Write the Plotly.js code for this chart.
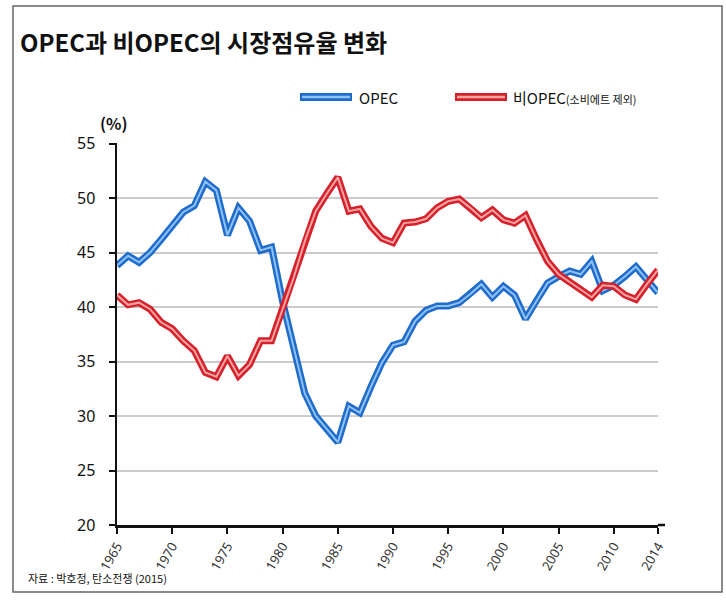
<!DOCTYPE html>
<html>
<head>
<meta charset="utf-8">
<script src="https://cdn.plot.ly/plotly-3.0.1.min.js"></script>
<style>
  html, body { margin: 0; padding: 0; background: #ffffff; }
  #chart { width: 726px; height: 600px; }
</style>
</head>
<body>
<div id="chart"></div>
<script>
// ---- data ----
const years = [1965,1966,1967,1968,1969,1970,1971,1972,1973,1974,
               1975,1976,1977,1978,1979,1980,1981,1982,1983,1984,
               1985,1986,1987,1988,1989,1990,1991,1992,1993,1994,
               1995,1996,1997,1998,1999,2000,2001,2002,2003,2004,
               2005,2006,2007,2008,2009,2010,2011,2012,2013,2014];
const opecShare = [43.8,44.7,44.1,45.0,46.2,47.4,48.7,49.3,51.5,50.7,
                   46.6,49.1,47.9,45.2,45.5,40.5,36.3,32.1,30.0,28.8,
                   27.6,30.9,30.3,32.7,34.9,36.5,36.8,38.7,39.7,40.1,
                   40.1,40.4,41.2,42.1,40.9,41.9,41.1,38.9,40.6,42.2,
                   42.8,43.3,43.0,44.2,41.5,42.0,42.8,43.7,42.5,41.3];
const nonOpecShare = [41.1,40.2,40.4,39.8,38.6,38.0,36.9,36.0,34.0,33.6,
                      35.5,33.7,34.7,36.9,36.9,39.8,42.7,46.0,48.8,50.4,
                      51.9,48.8,49.0,47.4,46.3,45.9,47.7,47.8,48.1,49.1,
                      49.7,49.9,49.1,48.2,48.9,48.0,47.7,48.4,46.2,44.2,
                      43.0,42.3,41.6,40.9,42.0,41.9,41.1,40.7,42.1,43.4];
const xTickVals = [1965,1970,1975,1980,1985,1990,1995,2000,2005,2010,2014];
const xTickText = ['1965','1970','1975','1980','1985','1990','1995','2000','2005','2010','2014'];
const yTickVals = [20,25,30,35,40,45,50,55];
const seriesNames = ['OPEC', '비OPEC(소비에트 제외)'];
const titleText = 'OPEC과 비OPEC의 시장점유율 변화';
const unitText = '(%)';
const sourceText = '자료 : 박호정, 탄소전쟁 (2015)';

// ---- layout geometry (pixels) ----
const W = 726, H = 600;
const L = 117, R = 658, T = 143, B = 525;
const px = x => (x - L) / (R - L);
const py = y => (B - y) / (B - T);

const KFONT = '"Noto Sans CJK KR", "Noto Sans", sans-serif';

const blueOuter = '#1f6ccc', blueInner = '#8fc2f2';
const redOuter = '#d6202a', redInner = '#f6a3a3';

function pair(yv, outer, inner, name) {
  return [
    { x: years, y: yv, type: 'scatter', mode: 'lines', name: name,
      line: { color: outer, width: 7, shape: 'linear' }, showlegend: false, hoverinfo: 'skip' },
    { x: years, y: yv, type: 'scatter', mode: 'lines', name: name,
      line: { color: inner, width: 2, shape: 'linear' }, showlegend: false }
  ];
}

const data = [
  ...pair(opecShare, blueOuter, blueInner, seriesNames[0]),
  ...pair(nonOpecShare, redOuter, redInner, seriesNames[1])
];

function swatch(x0, x1, y, outer, inner) {
  return [
    { type: 'line', xref: 'paper', yref: 'paper', x0: px(x0), x1: px(x1), y0: py(y), y1: py(y),
      line: { color: outer, width: 8 } },
    { type: 'line', xref: 'paper', yref: 'paper', x0: px(x0 + 2), x1: px(x1 - 2), y0: py(y), y1: py(y),
      line: { color: inner, width: 2.5 } }
  ];
}

const layout = {
  width: W, height: H,
  margin: { l: L, r: W - R, t: T, b: H - B, pad: 0 },
  paper_bgcolor: '#ffffff',
  plot_bgcolor: '#ffffff',
  showlegend: false,
  title: {
    text: '<b>' + titleText + '</b>',
    xref: 'container', yref: 'container',
    x: 20 / W, xanchor: 'left',
    y: 1 - 44 / H, yanchor: 'middle',
    font: { family: KFONT, size: 24, color: '#111' }
  },
  xaxis: {
    range: [1965, 2014],
    tickmode: 'array', tickvals: xTickVals, ticktext: xTickText,
    tickangle: -60,
    ticks: 'outside', ticklen: 6, tickwidth: 2, tickcolor: '#111',
    showline: true, linecolor: '#111', linewidth: 2.5,
    showgrid: false, zeroline: false,
    tickfont: { family: 'Noto Sans, sans-serif', size: 13, color: '#333' },
    fixedrange: true
  },
  yaxis: {
    range: [20, 55.05],
    tickmode: 'array', tickvals: yTickVals,
    ticks: 'outside', ticklen: 6, tickwidth: 2, tickcolor: '#111',
    ticklabelstandoff: 10,
    showline: true, linecolor: '#111', linewidth: 2.5,
    showgrid: true, gridcolor: '#cccccc', gridwidth: 2,
    zeroline: false,
    tickfont: { family: 'Noto Sans, sans-serif', size: 16, color: '#111' },
    fixedrange: true
  },
  shapes: [
    { type: 'rect', xref: 'paper', yref: 'paper',
      x0: px(13), x1: px(722), y0: py(592), y1: py(6),
      line: { color: '#666', width: 1.5 }, fillcolor: 'rgba(0,0,0,0)', layer: 'below' },
    { type: 'line', xref: 'paper', yref: 'paper', x0: 1, x1: px(665), y0: 0, y1: 0,
      line: { color: '#111', width: 2.5 } },
    ...swatch(300, 352, 97, blueOuter, blueInner),
    ...swatch(455, 507, 97, redOuter, redInner)
  ],
  annotations: [
    { text: seriesNames[0], xref: 'paper', yref: 'paper', x: px(357), y: py(97),
      xanchor: 'left', yanchor: 'middle', showarrow: false,
      font: { family: KFONT, size: 15, color: '#111' } },
    { text: '비OPEC<span style="font-size:11px">(소비에트 제외)</span>', xref: 'paper', yref: 'paper',
      x: px(511), y: py(97), xanchor: 'left', yanchor: 'middle', showarrow: false,
      font: { family: KFONT, size: 15, color: '#111' } },
    { text: '<b>' + unitText + '</b>', xref: 'paper', yref: 'paper', x: px(114), y: py(123),
      xanchor: 'center', yanchor: 'middle', showarrow: false,
      font: { family: KFONT, size: 16, color: '#111' } },
    { text: sourceText, xref: 'paper', yref: 'paper', x: px(26), y: py(578),
      xanchor: 'left', yanchor: 'middle', showarrow: false,
      font: { family: KFONT, size: 11, color: '#111' } }
  ]
};

Plotly.newPlot('chart', data, layout, { displayModeBar: false, staticPlot: true });
</script>
</body>
</html>
